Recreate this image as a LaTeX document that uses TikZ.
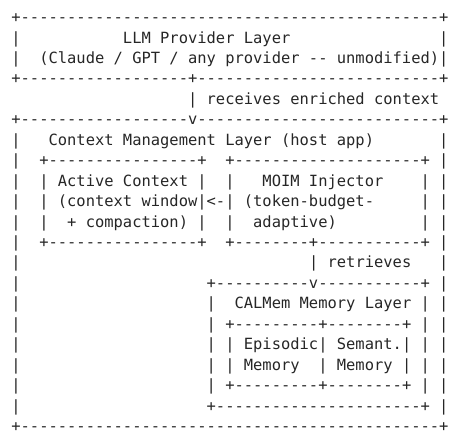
\documentclass[tikz,border=0pt]{standalone}
\usepackage{fontspec}
\setmonofont{DejaVu Sans Mono}
\ExplSyntaxOn
\cs_new:Npn \asciirep #1#2 { \prg_replicate:nn {#1} {#2} }
\ExplSyntaxOff
\newcommand\rdash[1]{\asciirep{#1}{-}}
\newcommand\rspc[1]{\asciirep{#1}{~}}
\definecolor{ink}{HTML}{262626}
\tikzset{asciiline/.style={anchor=base west, inner sep=0pt, outer sep=0pt,
  font=\ttfamily\fontsize{15.45pt}{20.45pt}\selectfont, text=ink}}
\begin{document}
\begin{tikzpicture}[x=1pt,y=1pt]
\useasboundingbox (0,0) rectangle (450,445);
\node[asciiline] (l1)  at (11.35,422.40) {+\rdash{45}+};
\node[asciiline] (l2)  at (11.35,401.95) {|\rspc{11}LLM~Provider~Layer\rspc{16}|};
\node[asciiline] (l3)  at (11.35,381.50) {|~~(Claude~/~GPT~/~any~provider~--~unmodified)|};
\node[asciiline] (l4)  at (11.35,361.05) {+\rdash{18}+\rdash{26}+};
\node[asciiline] (l5)  at (11.35,340.60) {\rspc{19}|~receives~enriched~context};
\node[asciiline] (l6)  at (11.35,320.15) {+\rdash{18}v\rdash{26}+};
\node[asciiline] (l7)  at (11.35,299.70) {|~~~Context~Management~Layer~(host~app)\rspc{7}|};
\node[asciiline] (l8)  at (11.35,279.25) {|~~+\rdash{16}+~~+\rdash{20}+~|};
\node[asciiline] (l9)  at (11.35,258.80) {|~~|~Active~Context~|~~|~~~MOIM~Injector\rspc{4}|~|};
\node[asciiline] (l10) at (11.35,238.35) {|~~|~(context~window|<-|~(token-budget-\rspc{5}|~|};
\node[asciiline] (l11) at (11.35,217.90) {|~~|~~+~compaction)~|~~|~~adaptive)\rspc{9}|~|};
\node[asciiline] (l12) at (11.35,197.45) {|~~+\rdash{16}+~~+\rdash{8}+\rdash{11}+~|};
\node[asciiline] (l13) at (11.35,177.00) {|\rspc{31}|~retrieves\rspc{3}|};
\node[asciiline] (l14) at (11.35,156.55) {|\rspc{20}+\rdash{10}v\rdash{11}+~|};
\node[asciiline] (l15) at (11.35,136.10) {|\rspc{20}|~~CALMem~Memory~Layer~|~|};
\node[asciiline] (l16) at (11.35,115.65) {|\rspc{20}|~+\rdash{9}+\rdash{8}+~|~|};
\node[asciiline] (l17) at (11.35,95.20)  {|\rspc{20}|~|~Episodic|~Semant.|~|~|};
\node[asciiline] (l18) at (11.35,74.75)  {|\rspc{20}|~|~Memory~~|~Memory~|~|~|};
\node[asciiline] (l19) at (11.35,54.30)  {|\rspc{20}|~+\rdash{9}+\rdash{8}+~|~|};
\node[asciiline] (l20) at (11.35,33.85)  {|\rspc{20}+\rdash{22}+~|};
\node[asciiline] (l21) at (11.35,13.40)  {+\rdash{45}+};
\end{tikzpicture}
\end{document}
